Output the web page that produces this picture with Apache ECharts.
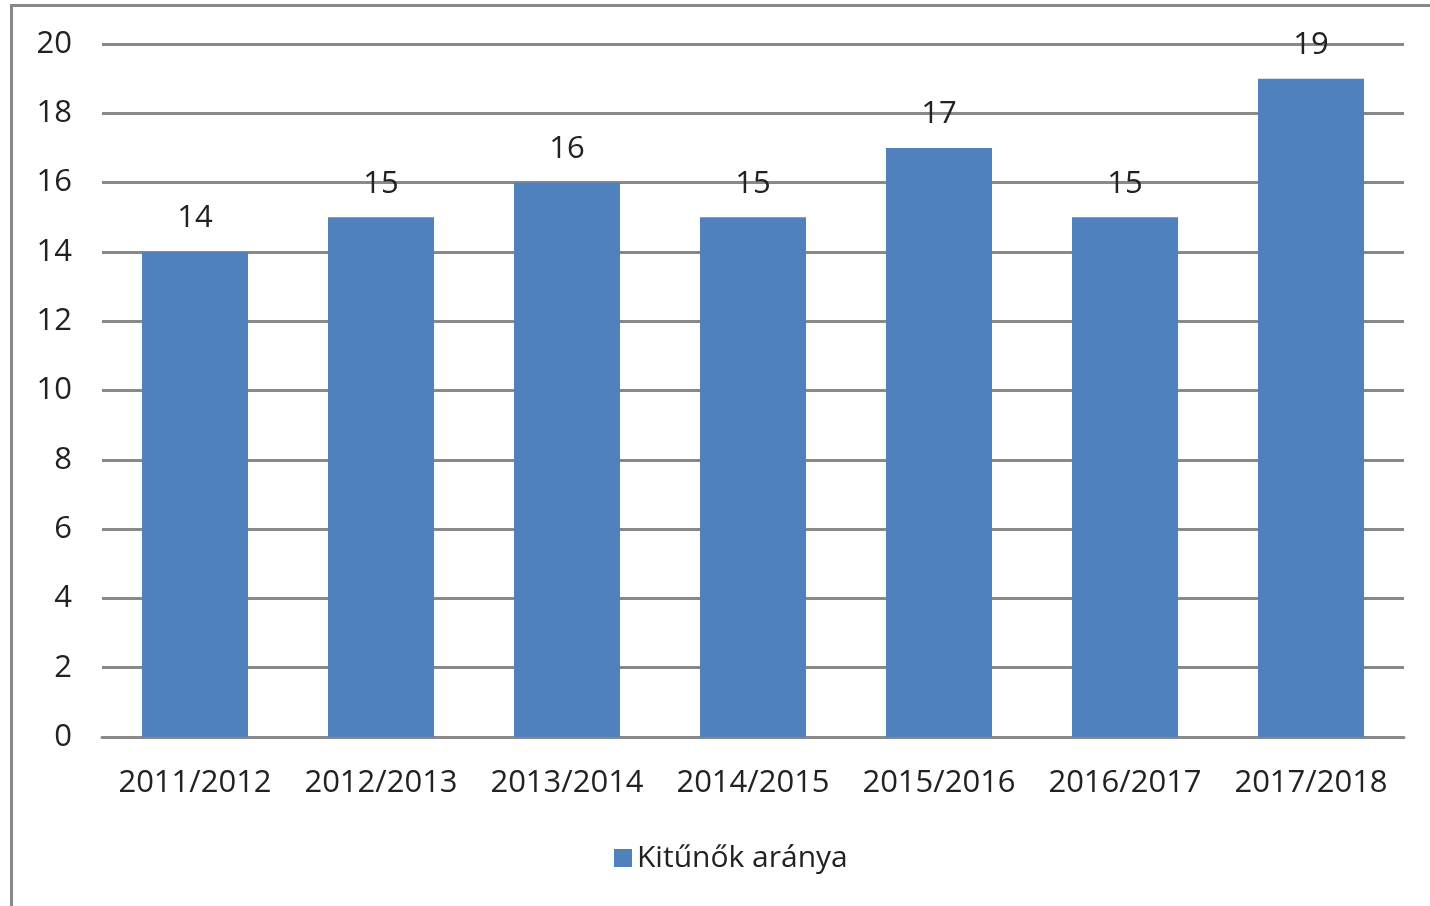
<!DOCTYPE html>
<html>
<head>
<meta charset="utf-8">
<script src="https://cdn.jsdelivr.net/npm/echarts@6/dist/echarts.min.js"></script>
<style>
html,body{margin:0;padding:0;background:#fff;}
#wrap{position:relative;width:1430px;height:906px;overflow:hidden;}
#frame{position:absolute;left:10px;top:4px;width:1440px;height:920px;border-left:3px solid #888;border-top:3px solid #888;box-sizing:border-box;pointer-events:none;z-index:5;}
#chart{position:absolute;left:0;top:0;width:1430px;height:906px;}
</style>
</head>
<body>
<div id="wrap"><div id="chart"></div><div id="frame"></div></div>
<script>
const categories = ['2011/2012','2012/2013','2013/2014','2014/2015','2015/2016','2016/2017','2017/2018'];
const values = [14, 15, 16, 15, 17, 15, 19];
const seriesName = 'Kitűnők aránya';
const yTicks = { min: 0, max: 20, interval: 2 };

const FONT = '"Open Sans", sans-serif';
const chart = echarts.init(document.getElementById('chart'));
chart.setOption({
  animation: false,
  textStyle: { fontFamily: FONT },
  grid: { left: 102, right: 26, top: 44, bottom: 169, containLabel: false },
  legend: {
    data: [seriesName],
    left: 609, top: 838,
    icon: 'rect', itemWidth: 18, itemHeight: 18, itemGap: 10,
    textStyle: { fontFamily: FONT, fontSize: 30, color: '#222' }
  },
  xAxis: {
    type: 'category',
    data: categories,
    axisLine: { lineStyle: { color: '#898989', width: 3 } },
    axisTick: { show: false },
    axisLabel: { fontFamily: FONT, fontSize: 31, color: '#222', margin: 31, interval: 0 }
  },
  yAxis: {
    type: 'value',
    min: yTicks.min, max: yTicks.max, interval: yTicks.interval,
    axisLine: { show: false },
    axisTick: { show: false },
    splitLine: { lineStyle: { color: '#898989', width: 3 } },
    axisLabel: { fontFamily: FONT, fontSize: 31, color: '#222', margin: 30 }
  },
  series: [{
    name: seriesName,
    type: 'bar',
    data: values,
    barCategoryGap: '43%',
    itemStyle: { color: '#4F81BD' },
    label: { show: true, position: 'top', distance: 18, fontFamily: FONT, fontSize: 31, color: '#222' }
  }]
});
</script>
</body>
</html>
